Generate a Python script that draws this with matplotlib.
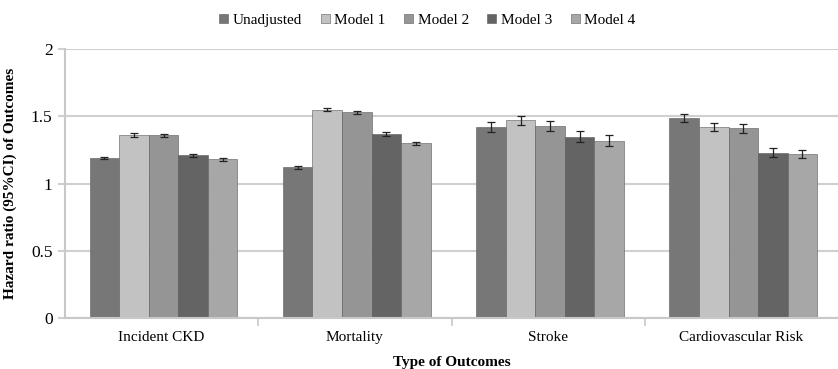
import numpy as np
import matplotlib.pyplot as plt

categories = ["Incident CKD", "Mortality", "Stroke", "Cardiovascular Risk"]
series_names = ["Unadjusted", "Model 1", "Model 2", "Model 3", "Model 4"]
hr_unadj = [1.19, 1.12, 1.42, 1.49]
hr_model1 = [1.36, 1.55, 1.47, 1.42]
hr_model2 = [1.36, 1.53, 1.43, 1.41]
hr_model3 = [1.21, 1.37, 1.35, 1.23]
hr_model4 = [1.18, 1.30, 1.32, 1.22]
err_unadj = [0.008, 0.008, 0.036, 0.030]
err_model1 = [0.015, 0.012, 0.036, 0.032]
err_model2 = [0.012, 0.012, 0.036, 0.032]
err_model3 = [0.010, 0.015, 0.040, 0.032]
err_model4 = [0.010, 0.012, 0.040, 0.030]
colors = ["#777777", "#c2c2c2", "#959595", "#646464", "#a7a7a7"]

values = [hr_unadj, hr_model1, hr_model2, hr_model3, hr_model4]
errors = [err_unadj, err_model1, err_model2, err_model3, err_model4]

plt.rcParams['font.family'] = ['Liberation Serif', 'DejaVu Serif']

fig = plt.figure(figsize=(8.38, 3.69), dpi=100)
ax = fig.add_axes([0.0776, 0.1374, 0.9224, 0.7298])

x = np.arange(len(categories))
width = 0.153
for i, (name, vals, errs) in enumerate(zip(series_names, values, errors)):
    offset = (i - 2) * width + 0.01
    ax.bar(x + offset, vals, width, color=colors[i], edgecolor="#5a5a5a",
           linewidth=0.4, label=name, zorder=2)
    ax.errorbar(x + offset, vals, yerr=errs, fmt="none", ecolor="#222222",
                elinewidth=0.9, capsize=3, capthick=0.9, zorder=3)

ax.set_xlim(-0.5, 3.5)
ax.set_ylim(0, 2)
ax.set_yticks([0, 0.5, 1, 1.5, 2])
ax.set_yticklabels(["0", "0.5", "1", "1.5", "2"], fontsize=12.5)
ax.yaxis.grid(True, color="#d0d0d0", linewidth=1.5, zorder=0)
ax.set_axisbelow(True)
ax.tick_params(axis="y", length=5, color="#d0d0d0", width=1.5, pad=4)

ax.set_xticks(x)
ax.set_xticklabels(categories, fontsize=11)
ax.set_xticks([0.5, 1.5, 2.5], minor=True)
ax.tick_params(axis="x", which="major", length=0, pad=9)
ax.tick_params(axis="x", which="minor", length=6, color="#c8c8c8", width=1.2)

for s in ["top", "right"]:
    ax.spines[s].set_visible(False)
for s in ["left", "bottom"]:
    ax.spines[s].set_color("#c8c8c8")
    ax.spines[s].set_linewidth(1.5)

ax.set_xlabel("Type of Outcomes", fontsize=11, fontweight="bold", labelpad=9)
ax.set_ylabel("Hazard ratio (95%CI) of Outcomes", fontsize=11,
              fontweight="bold", labelpad=10)

fig.legend(loc="upper center", bbox_to_anchor=(0.51, 1.0), ncol=5,
           frameon=False, fontsize=11, handlelength=0.6, handleheight=0.6,
           handletextpad=0.3, columnspacing=1.2)

fig.savefig("out.png", dpi=100)
